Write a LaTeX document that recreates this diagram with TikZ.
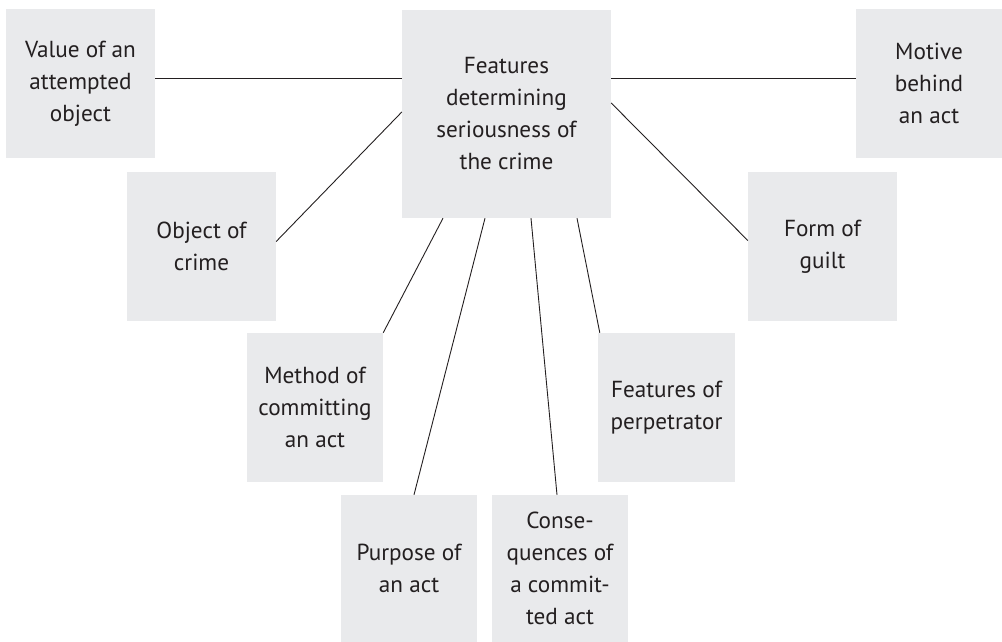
\documentclass[tikz,border=0pt]{standalone}
\usepackage{fontspec}
\setmainfont{PT Sans}
\usepackage{tikz}
\definecolor{boxgray}{RGB}{233,234,236}
\definecolor{ink}{RGB}{35,31,32}

\begin{document}
\begin{tikzpicture}[x=1pt,y=-1pt,
  box/.style={fill=boxgray,draw=none,inner sep=0pt,align=center,text=ink,
    font=\fontsize{23.2}{32}\selectfont},
  link/.style={draw=ink,line width=0.9pt}]
\useasboundingbox (0,0) rectangle (1002,642);
% boxes
\node [box,minimum width=209,minimum height=208] (main) at (506.5,114) {Features\\determining\\seriousness of\\the crime};
\node [box,minimum width=149,minimum height=149] (val) at (80.5,83.5) {Value of an\\attempted\\object};
\node [box,minimum width=146,minimum height=149] (mot) at (929,83.5) {Motive\\behind\\an act};
\node [box,minimum width=149,minimum height=149] (obj) at (201.5,246.5) {Object of\\crime};
\node [box,minimum width=149,minimum height=149] (form) at (822.5,246.5) {Form of\\guilt};
\node [box,minimum width=136,minimum height=149] (meth) at (315,407.5) {Method of\\committing\\an act};
\node [box,minimum width=137,minimum height=149] (perp) at (666.5,407.5) {Features of\\perpetrator};
\node [box,minimum width=136,minimum height=147] (purp) at (409,568.5) {Purpose of\\an act};
\node [box,minimum width=136,minimum height=147] (cons) at (560,568.5) {Conse-\\quences of\\a commit-\\ted act};
% links
\draw [link] ([yshift=5.5pt]val.east) -- ([yshift=5.5pt]val.east -| main.west);
\draw [link] ([yshift=36pt]main.east) -- ([yshift=36pt]main.east -| mot.west);
\draw [link] ([yshift=5pt]obj.east) -- ([yshift=2pt]main.west);
\draw [link] ([yshift=11pt]main.east) -- ([yshift=6pt]form.west);
\draw [link] ([xshift=-63.5pt]main.south) -- (meth.north east);
\draw [link] ([xshift=-21.5pt]main.south) -- ([xshift=5pt]purp.north);
\draw [link] ([xshift=24.5pt]main.south) -- ([xshift=-3pt]cons.north);
\draw [link] ([xshift=70.5pt]main.south) -- ([xshift=2pt]perp.north west);
\end{tikzpicture}
\end{document}
